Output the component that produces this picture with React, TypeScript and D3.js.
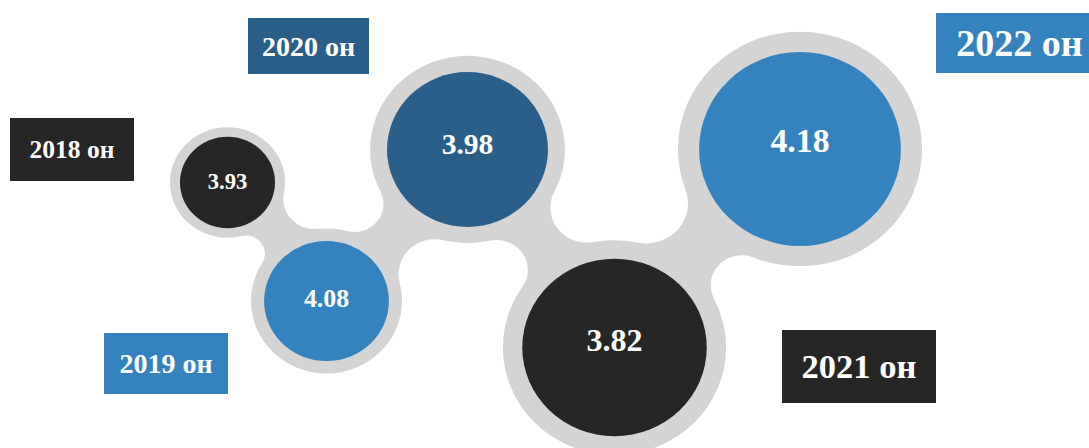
import * as d3 from 'd3'
import React from 'react'

// values
const years = ['2018', '2019', '2020', '2021', '2022']
const values = [3.93, 4.08, 3.98, 3.82, 4.18]
const unit = 'он'

// layout (px)
const centerX = [227.5, 326.5, 467.5, 614.5, 800]
const centerY = [182.5, 301, 149.5, 347.5, 149]
const radius = [45.7, 60, 77.4, 88.7, 97]
const ringScale = 1.21
const stretchX = 1.04 // the picture is a bit wider than tall
const colors = ['#262626', '#3483be', '#2a5f8a', '#262626', '#3483be']
const ringColor = '#d4d4d4'
// label boxes: x, y, w, h, font size
const labelBoxes = [
  [10, 118, 124, 63, 25.5],
  [104, 333, 124, 61, 28],
  [248, 18, 121, 56, 28],
  [782, 330, 154, 73, 34.5],
  [936, 13, 167, 60, 38],
]
// fillet radii of the neck between bubble i and i+1: [side +, side -]
const fillets = [[18, 30], [35, 28], [30, 35], [30, 40]]

const font = "'Liberation Serif', 'DejaVu Serif', serif"

type P = [number, number]

// fillet circle touching both circles on one side of the centre line
const fillet = (c1: P, r1: number, c2: P, r2: number, f: number, side: number) => {
  const dx = c2[0] - c1[0], dy = c2[1] - c1[1], d = Math.hypot(dx, dy)
  const ux = dx / d, uy = dy / d
  const a = ((r1 + f) ** 2 - (r2 + f) ** 2 + d * d) / (2 * d)
  const h = Math.sqrt(Math.max(0, (r1 + f) ** 2 - a * a))
  const p: P = [c1[0] + a * ux - side * h * uy, c1[1] + a * uy + side * h * ux]
  const a1 = Math.atan2(c1[1] - p[1], c1[0] - p[0])
  const a2 = Math.atan2(c2[1] - p[1], c2[0] - p[0])
  let delta = a2 - a1
  while (delta > Math.PI) delta -= 2 * Math.PI
  while (delta <= -Math.PI) delta += 2 * Math.PI
  return { p, a1, delta }
}

const neck = (c1: P, r1: number, c2: P, r2: number, fa: number, fb: number) => {
  const A = fillet(c1, r1, c2, r2, fa, 1), B = fillet(c1, r1, c2, r2, fb, -1)
  const path = d3.path()
  path.arc(A.p[0], A.p[1], fa, A.a1, A.a1 + A.delta, A.delta < 0)
  // back along the other side, from bubble 2 to bubble 1
  const b2 = B.a1 + B.delta
  path.arc(B.p[0], B.p[1], fb, b2, B.a1, B.delta > 0)
  path.closePath()
  return path.toString()
}

export default function App() {
  const model = years.map((_, i) => ({
    c: [centerX[i] / stretchX, centerY[i]] as P,
    r: radius[i],
    ro: radius[i] * ringScale,
  }))

  const necks = d3.pairs(model).map(([m1, m2], i) =>
    neck(m1.c, m1.ro, m2.c, m2.ro, fillets[i][0], fillets[i][1]))

  const valueSize = d3.scaleLinear().domain([45, 100]).range([22.5, 34.5])
  // the numbers sit a little above the centre on the bigger bubbles
  const valueLift = d3.scaleLinear().domain([40, 97]).range([0, 8.5])

  return (
    <svg width={1089} height={448} style={{ position: 'absolute', left: 0, top: 0, display: 'block' }}>
      <g transform={`scale(${stretchX},1)`}>
        {necks.map((d, i) => <path key={'n' + i} d={d} fill={ringColor} />)}
        {model.map((m, i) => <circle key={'o' + i} cx={m.c[0]} cy={m.c[1]} r={m.ro} fill={ringColor} />)}
        {model.map((m, i) => <circle key={'c' + i} cx={m.c[0]} cy={m.c[1]} r={m.r} fill={colors[i]} />)}
      </g>
      {values.map((v, i) => (
        <text key={'v' + i} x={centerX[i]} y={centerY[i] - valueLift(radius[i])} dy='0.34em' textAnchor='middle'
          fill='#fff' fontFamily={font} fontWeight='bold' fontSize={valueSize(radius[i])}>
          {d3.format('.2f')(v)}
        </text>
      ))}
      {years.map((y, i) => {
        const [x, top, w, h, fs] = labelBoxes[i]
        return (
          <g key={'l' + i}>
            <rect x={x} y={top} width={w} height={h} fill={colors[i]} />
            <text x={x + w / 2} y={top + h / 2} dy='0.34em' textAnchor='middle'
              fill='#fff' fontFamily={font} fontWeight='bold' fontSize={fs}>
              {y} {unit}
            </text>
          </g>
        )
      })}
    </svg>
  )
}
